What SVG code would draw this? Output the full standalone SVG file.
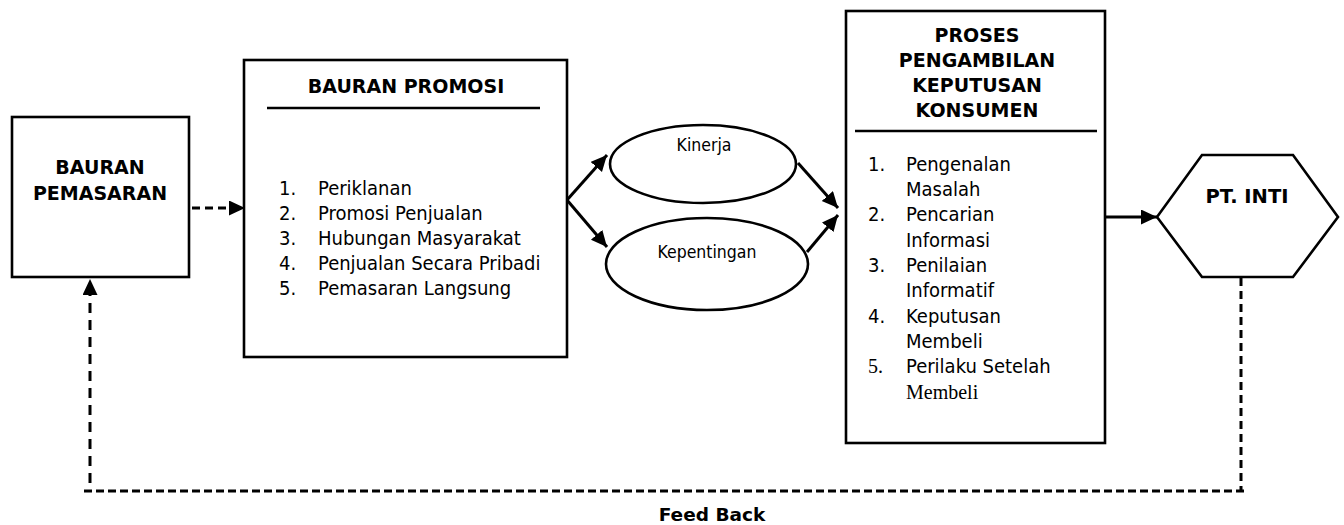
<svg xmlns="http://www.w3.org/2000/svg" width="1344" height="525" viewBox="0 0 1344 525">
<style>
.box{fill:#fff;stroke:#000;stroke-width:2.6}
.rule{stroke:#000;stroke-width:2.6}
.b{font-family:'DejaVu Sans','Liberation Sans',sans-serif;font-weight:bold;font-size:19px;fill:#000;text-anchor:middle}
.r{font-family:'DejaVu Sans Condensed','DejaVu Sans','Liberation Sans',sans-serif;font-stretch:condensed;font-size:20px;fill:#000}
.s{font-family:'Liberation Serif','Times New Roman',serif;font-size:20px;fill:#000}
.e{font-family:'DejaVu Sans Condensed','DejaVu Sans','Liberation Sans',sans-serif;font-stretch:condensed;font-size:17.5px;fill:#000;text-anchor:middle}
.c{fill:none;stroke:#000;stroke-width:3}
.d1{stroke-dasharray:8 5}
.d2{stroke-dasharray:10 7}
.d3{stroke-dasharray:8 4}
</style>
<defs>
<marker id="ah" markerUnits="userSpaceOnUse" markerWidth="17" markerHeight="16" refX="16" refY="7.5" orient="auto">
<path d="M0,0 L16,7.5 L0,15 z" fill="#000"/>
</marker>
</defs>

<g id="bauran-pemasaran">
<rect class="box" x="12" y="117" width="177" height="160"/>
<text class="b" x="100" y="174">BAURAN</text>
<text class="b" x="100" y="200">PEMASARAN</text>
</g>

<g id="bauran-promosi">
<rect class="box" x="244" y="60" width="323" height="297"/>
<text class="b" x="406" y="93">BAURAN PROMOSI</text>
<line class="rule" x1="267" y1="108" x2="540" y2="108"/>
<text class="r" x="279" y="195">1.</text><text class="r" x="318" y="195">Periklanan</text>
<text class="r" x="279" y="220">2.</text><text class="r" x="318" y="220">Promosi Penjualan</text>
<text class="r" x="279" y="245">3.</text><text class="r" x="318" y="245">Hubungan Masyarakat</text>
<text class="r" x="279" y="270">4.</text><text class="r" x="318" y="270">Penjualan Secara Pribadi</text>
<text class="r" x="279" y="295">5.</text><text class="r" x="318" y="295">Pemasaran Langsung</text>
</g>

<g id="kinerja">
<ellipse class="box" cx="703" cy="164" rx="93" ry="39"/>
<text class="e" x="704" y="151">Kinerja</text>
</g>

<g id="kepentingan">
<ellipse class="box" cx="707" cy="264" rx="101" ry="46"/>
<text class="e" x="707" y="258">Kepentingan</text>
</g>

<g id="proses">
<rect class="box" x="846" y="11" width="259" height="432"/>
<text class="b" x="977" y="42">PROSES</text>
<text class="b" x="977" y="67">PENGAMBILAN</text>
<text class="b" x="977" y="92">KEPUTUSAN</text>
<text class="b" x="977" y="117">KONSUMEN</text>
<line class="rule" x1="855" y1="131" x2="1097" y2="131"/>
<text class="r" x="868" y="171">1.</text><text class="r" x="906" y="171">Pengenalan</text>
<text class="r" x="906" y="196">Masalah</text>
<text class="r" x="868" y="221">2.</text><text class="r" x="906" y="221">Pencarian</text>
<text class="r" x="906" y="247">Informasi</text>
<text class="r" x="868" y="272">3.</text><text class="r" x="906" y="272">Penilaian</text>
<text class="r" x="906" y="297">Informatif</text>
<text class="r" x="868" y="323">4.</text><text class="r" x="906" y="323">Keputusan</text>
<text class="r" x="906" y="348">Membeli</text>
<text class="s" x="868" y="373">5.</text><text class="r" x="906" y="373">Perilaku Setelah</text>
<text class="s" x="906" y="399">Membeli</text>
</g>

<g id="pt-inti">
<polygon class="box" points="1157,217 1202,155 1293,155 1338,217 1293,277 1202,277"/>
<text class="b" x="1247" y="203" style="font-size:19.5px">PT. INTI</text>
</g>

<g id="connectors">
<path class="c d1" d="M192,208 H245" marker-end="url(#ah)"/>
<path class="c" d="M567,200 L607,155" marker-end="url(#ah)"/>
<path class="c" d="M567,200 L607,247" marker-end="url(#ah)"/>
<path class="c" d="M798,163 L838,208" marker-end="url(#ah)"/>
<path class="c" d="M807,252 L838,215" marker-end="url(#ah)"/>
<path class="c" d="M1105,217 H1157" marker-end="url(#ah)"/>
<path class="c d1" d="M1241,278 V491"/>
<path class="c d3" d="M1244,491 H82"/>
<path class="c d2" d="M90,483 V279" marker-end="url(#ah)"/>
<text class="b" x="712" y="521" style="font-size:18.5px">Feed Back</text>
</g>
</svg>
